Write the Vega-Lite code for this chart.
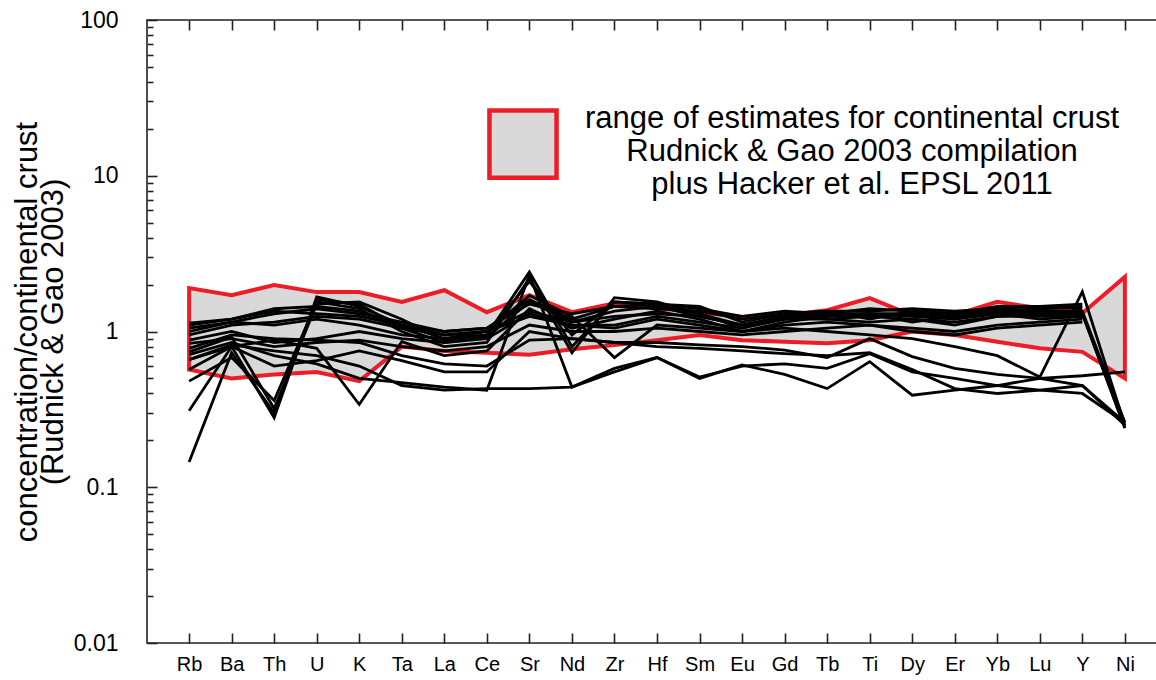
{
  "$schema": "https://vega.github.io/schema/vega-lite/v6.json",
  "width": 1020,
  "height": 623,
  "autosize": {"type": "none"},
  "padding": {"left": 147, "top": 20, "right": 0, "bottom": 37},
  "background": "white",
  "config": {
    "font": "Liberation Sans",
    "view": {"stroke": "#222", "strokeWidth": 1.6},
    "axis": {"domain": false, "grid": false, "tickColor": "#222", "tickWidth": 1.6, "labelColor": "#000", "labelFont": "Liberation Sans", "titleFont": "Liberation Sans", "titleColor": "#000"}
  },
  "datasets": {
    "band": [
      {"e": "Rb", "v": 0.57, "hi": 1.90},
      {"e": "Ba", "v": 0.50, "hi": 1.71},
      {"e": "Th", "v": 0.53, "hi": 1.99},
      {"e": "U", "v": 0.55, "hi": 1.79},
      {"e": "K", "v": 0.48, "hi": 1.79},
      {"e": "Ta", "v": 0.80, "hi": 1.55},
      {"e": "La", "v": 0.75, "hi": 1.84},
      {"e": "Ce", "v": 0.73, "hi": 1.33},
      {"e": "Sr", "v": 0.71, "hi": 1.71},
      {"e": "Nd", "v": 0.77, "hi": 1.33},
      {"e": "Zr", "v": 0.82, "hi": 1.52},
      {"e": "Hf", "v": 0.88, "hi": 1.41},
      {"e": "Sm", "v": 0.95, "hi": 1.33},
      {"e": "Eu", "v": 0.88, "hi": 1.24},
      {"e": "Gd", "v": 0.86, "hi": 1.27},
      {"e": "Tb", "v": 0.84, "hi": 1.37},
      {"e": "Ti", "v": 0.88, "hi": 1.64},
      {"e": "Dy", "v": 1.00, "hi": 1.27},
      {"e": "Er", "v": 0.95, "hi": 1.28},
      {"e": "Yb", "v": 0.86, "hi": 1.55},
      {"e": "Lu", "v": 0.78, "hi": 1.41},
      {"e": "Y", "v": 0.74, "hi": 1.31},
      {"e": "Ni", "v": 0.50, "hi": 2.24}
    ],
    "lines": [
      {"s": "A", "e": "Rb", "v": 0.145}, {"s": "A", "e": "Ba", "v": 0.73}, {"s": "A", "e": "Th", "v": 0.30}, {"s": "A", "e": "U", "v": 1.60}, {"s": "A", "e": "K", "v": 1.50}, {"s": "A", "e": "Ta", "v": 1.05}, {"s": "A", "e": "La", "v": 0.85}, {"s": "A", "e": "Ce", "v": 0.92}, {"s": "A", "e": "Sr", "v": 1.55}, {"s": "A", "e": "Nd", "v": 1.15}, {"s": "A", "e": "Zr", "v": 1.35}, {"s": "A", "e": "Hf", "v": 1.45}, {"s": "A", "e": "Sm", "v": 1.25}, {"s": "A", "e": "Eu", "v": 1.10}, {"s": "A", "e": "Gd", "v": 1.20}, {"s": "A", "e": "Tb", "v": 1.30}, {"s": "A", "e": "Ti", "v": 1.25}, {"s": "A", "e": "Dy", "v": 1.30}, {"s": "A", "e": "Er", "v": 1.20}, {"s": "A", "e": "Yb", "v": 1.35}, {"s": "A", "e": "Lu", "v": 1.40}, {"s": "A", "e": "Y", "v": 1.45},
      {"s": "B", "e": "Rb", "v": 0.31}, {"s": "B", "e": "Ba", "v": 0.80}, {"s": "B", "e": "Th", "v": 0.28}, {"s": "B", "e": "U", "v": 1.67}, {"s": "B", "e": "K", "v": 1.45}, {"s": "B", "e": "Ta", "v": 1.10}, {"s": "B", "e": "La", "v": 0.90}, {"s": "B", "e": "Ce", "v": 0.95}, {"s": "B", "e": "Sr", "v": 2.41}, {"s": "B", "e": "Nd", "v": 0.80}, {"s": "B", "e": "Zr", "v": 1.55}, {"s": "B", "e": "Hf", "v": 1.50}, {"s": "B", "e": "Sm", "v": 1.45}, {"s": "B", "e": "Eu", "v": 1.15}, {"s": "B", "e": "Gd", "v": 1.30}, {"s": "B", "e": "Tb", "v": 1.35}, {"s": "B", "e": "Ti", "v": 1.20}, {"s": "B", "e": "Dy", "v": 1.35}, {"s": "B", "e": "Er", "v": 1.30}, {"s": "B", "e": "Yb", "v": 1.45}, {"s": "B", "e": "Lu", "v": 1.45}, {"s": "B", "e": "Y", "v": 1.50},
      {"s": "C", "e": "Rb", "v": 0.48}, {"s": "C", "e": "Ba", "v": 0.68}, {"s": "C", "e": "Th", "v": 0.36}, {"s": "C", "e": "U", "v": 1.55}, {"s": "C", "e": "K", "v": 1.40}, {"s": "C", "e": "Ta", "v": 1.00}, {"s": "C", "e": "La", "v": 0.80}, {"s": "C", "e": "Ce", "v": 0.85}, {"s": "C", "e": "Sr", "v": 2.20}, {"s": "C", "e": "Nd", "v": 0.73}, {"s": "C", "e": "Zr", "v": 1.65}, {"s": "C", "e": "Hf", "v": 1.55}, {"s": "C", "e": "Sm", "v": 1.30}, {"s": "C", "e": "Eu", "v": 1.05}, {"s": "C", "e": "Gd", "v": 1.25}, {"s": "C", "e": "Tb", "v": 1.20}, {"s": "C", "e": "Ti", "v": 1.15}, {"s": "C", "e": "Dy", "v": 1.20}, {"s": "C", "e": "Er", "v": 1.10}, {"s": "C", "e": "Yb", "v": 1.25}, {"s": "C", "e": "Lu", "v": 1.30}, {"s": "C", "e": "Y", "v": 1.30}, {"s": "C", "e": "Ni", "v": 0.24},
      {"s": "D", "e": "Rb", "v": 0.57}, {"s": "D", "e": "Ba", "v": 0.80}, {"s": "D", "e": "Th", "v": 0.88}, {"s": "D", "e": "U", "v": 0.78}, {"s": "D", "e": "K", "v": 0.34}, {"s": "D", "e": "Ta", "v": 0.86}, {"s": "D", "e": "La", "v": 0.70}, {"s": "D", "e": "Ce", "v": 0.75}, {"s": "D", "e": "Sr", "v": 1.40}, {"s": "D", "e": "Nd", "v": 1.05}, {"s": "D", "e": "Zr", "v": 1.20}, {"s": "D", "e": "Hf", "v": 1.35}, {"s": "D", "e": "Sm", "v": 1.20}, {"s": "D", "e": "Eu", "v": 1.00}, {"s": "D", "e": "Gd", "v": 1.15}, {"s": "D", "e": "Tb", "v": 1.25}, {"s": "D", "e": "Ti", "v": 1.30}, {"s": "D", "e": "Dy", "v": 1.15}, {"s": "D", "e": "Er", "v": 1.25}, {"s": "D", "e": "Yb", "v": 1.30}, {"s": "D", "e": "Lu", "v": 1.20}, {"s": "D", "e": "Y", "v": 1.25},
      {"s": "E", "e": "Rb", "v": 0.66}, {"s": "E", "e": "Ba", "v": 0.82}, {"s": "E", "e": "Th", "v": 0.75}, {"s": "E", "e": "U", "v": 0.70}, {"s": "E", "e": "K", "v": 0.60}, {"s": "E", "e": "Ta", "v": 0.45}, {"s": "E", "e": "La", "v": 0.42}, {"s": "E", "e": "Ce", "v": 0.43}, {"s": "E", "e": "Sr", "v": 0.43}, {"s": "E", "e": "Nd", "v": 0.44}, {"s": "E", "e": "Zr", "v": 0.55}, {"s": "E", "e": "Hf", "v": 0.68}, {"s": "E", "e": "Sm", "v": 0.50}, {"s": "E", "e": "Eu", "v": 0.61}, {"s": "E", "e": "Gd", "v": 0.53}, {"s": "E", "e": "Tb", "v": 0.43}, {"s": "E", "e": "Ti", "v": 0.64}, {"s": "E", "e": "Dy", "v": 0.39}, {"s": "E", "e": "Er", "v": 0.42}, {"s": "E", "e": "Yb", "v": 0.45}, {"s": "E", "e": "Lu", "v": 0.50}, {"s": "E", "e": "Y", "v": 0.52}, {"s": "E", "e": "Ni", "v": 0.55},
      {"s": "F", "e": "Rb", "v": 0.71}, {"s": "F", "e": "Ba", "v": 0.85}, {"s": "F", "e": "Th", "v": 0.70}, {"s": "F", "e": "U", "v": 0.62}, {"s": "F", "e": "K", "v": 0.50}, {"s": "F", "e": "Ta", "v": 0.47}, {"s": "F", "e": "La", "v": 0.44}, {"s": "F", "e": "Ce", "v": 0.42}, {"s": "F", "e": "Sr", "v": 2.30}, {"s": "F", "e": "Nd", "v": 0.44}, {"s": "F", "e": "Zr", "v": 0.58}, {"s": "F", "e": "Hf", "v": 0.68}, {"s": "F", "e": "Sm", "v": 0.51}, {"s": "F", "e": "Eu", "v": 0.60}, {"s": "F", "e": "Gd", "v": 0.62}, {"s": "F", "e": "Tb", "v": 0.58}, {"s": "F", "e": "Ti", "v": 0.72}, {"s": "F", "e": "Dy", "v": 0.55}, {"s": "F", "e": "Er", "v": 0.50}, {"s": "F", "e": "Yb", "v": 0.45}, {"s": "F", "e": "Lu", "v": 0.42}, {"s": "F", "e": "Y", "v": 0.40}, {"s": "F", "e": "Ni", "v": 0.26},
      {"s": "G", "e": "Rb", "v": 0.78}, {"s": "G", "e": "Ba", "v": 0.95}, {"s": "G", "e": "Th", "v": 0.90}, {"s": "G", "e": "U", "v": 0.88}, {"s": "G", "e": "K", "v": 0.85}, {"s": "G", "e": "Ta", "v": 0.70}, {"s": "G", "e": "La", "v": 0.62}, {"s": "G", "e": "Ce", "v": 0.60}, {"s": "G", "e": "Sr", "v": 0.88}, {"s": "G", "e": "Nd", "v": 0.90}, {"s": "G", "e": "Zr", "v": 0.85}, {"s": "G", "e": "Hf", "v": 0.85}, {"s": "G", "e": "Sm", "v": 0.82}, {"s": "G", "e": "Eu", "v": 0.80}, {"s": "G", "e": "Gd", "v": 0.76}, {"s": "G", "e": "Tb", "v": 0.68}, {"s": "G", "e": "Ti", "v": 0.90}, {"s": "G", "e": "Dy", "v": 0.69}, {"s": "G", "e": "Er", "v": 0.58}, {"s": "G", "e": "Yb", "v": 0.53}, {"s": "G", "e": "Lu", "v": 0.50}, {"s": "G", "e": "Y", "v": 0.45}, {"s": "G", "e": "Ni", "v": 0.25},
      {"s": "H", "e": "Rb", "v": 1.00}, {"s": "H", "e": "Ba", "v": 1.15}, {"s": "H", "e": "Th", "v": 1.10}, {"s": "H", "e": "U", "v": 1.20}, {"s": "H", "e": "K", "v": 1.10}, {"s": "H", "e": "Ta", "v": 0.95}, {"s": "H", "e": "La", "v": 0.90}, {"s": "H", "e": "Ce", "v": 1.00}, {"s": "H", "e": "Sr", "v": 1.25}, {"s": "H", "e": "Nd", "v": 1.10}, {"s": "H", "e": "Zr", "v": 1.05}, {"s": "H", "e": "Hf", "v": 1.20}, {"s": "H", "e": "Sm", "v": 1.10}, {"s": "H", "e": "Eu", "v": 1.00}, {"s": "H", "e": "Gd", "v": 1.05}, {"s": "H", "e": "Tb", "v": 1.00}, {"s": "H", "e": "Ti", "v": 0.95}, {"s": "H", "e": "Dy", "v": 0.90}, {"s": "H", "e": "Er", "v": 0.80}, {"s": "H", "e": "Yb", "v": 0.70}, {"s": "H", "e": "Lu", "v": 0.51}, {"s": "H", "e": "Y", "v": 1.80}, {"s": "H", "e": "Ni", "v": 0.25},
      {"s": "I", "e": "Rb", "v": 1.10}, {"s": "I", "e": "Ba", "v": 1.20}, {"s": "I", "e": "Th", "v": 1.40}, {"s": "I", "e": "U", "v": 1.45}, {"s": "I", "e": "K", "v": 1.35}, {"s": "I", "e": "Ta", "v": 1.10}, {"s": "I", "e": "La", "v": 0.95}, {"s": "I", "e": "Ce", "v": 1.00}, {"s": "I", "e": "Sr", "v": 1.70}, {"s": "I", "e": "Nd", "v": 1.25}, {"s": "I", "e": "Zr", "v": 0.68}, {"s": "I", "e": "Hf", "v": 1.10}, {"s": "I", "e": "Sm", "v": 1.05}, {"s": "I", "e": "Eu", "v": 1.00}, {"s": "I", "e": "Gd", "v": 1.10}, {"s": "I", "e": "Tb", "v": 1.15}, {"s": "I", "e": "Ti", "v": 1.10}, {"s": "I", "e": "Dy", "v": 1.05}, {"s": "I", "e": "Er", "v": 1.00}, {"s": "I", "e": "Yb", "v": 1.10}, {"s": "I", "e": "Lu", "v": 1.15}, {"s": "I", "e": "Y", "v": 1.20},
      {"s": "J", "e": "Rb", "v": 1.13}, {"s": "J", "e": "Ba", "v": 1.20}, {"s": "J", "e": "Th", "v": 1.35}, {"s": "J", "e": "U", "v": 1.30}, {"s": "J", "e": "K", "v": 1.25}, {"s": "J", "e": "Ta", "v": 1.10}, {"s": "J", "e": "La", "v": 1.00}, {"s": "J", "e": "Ce", "v": 1.05}, {"s": "J", "e": "Sr", "v": 1.50}, {"s": "J", "e": "Nd", "v": 1.30}, {"s": "J", "e": "Zr", "v": 1.45}, {"s": "J", "e": "Hf", "v": 1.40}, {"s": "J", "e": "Sm", "v": 1.35}, {"s": "J", "e": "Eu", "v": 1.20}, {"s": "J", "e": "Gd", "v": 1.30}, {"s": "J", "e": "Tb", "v": 1.35}, {"s": "J", "e": "Ti", "v": 1.35}, {"s": "J", "e": "Dy", "v": 1.40}, {"s": "J", "e": "Er", "v": 1.35}, {"s": "J", "e": "Yb", "v": 1.40}, {"s": "J", "e": "Lu", "v": 1.45}, {"s": "J", "e": "Y", "v": 1.40},
      {"s": "K", "e": "Rb", "v": 0.95}, {"s": "K", "e": "Ba", "v": 1.10}, {"s": "K", "e": "Th", "v": 1.15}, {"s": "K", "e": "U", "v": 1.25}, {"s": "K", "e": "K", "v": 1.20}, {"s": "K", "e": "Ta", "v": 1.05}, {"s": "K", "e": "La", "v": 0.95}, {"s": "K", "e": "Ce", "v": 1.00}, {"s": "K", "e": "Sr", "v": 1.35}, {"s": "K", "e": "Nd", "v": 1.15}, {"s": "K", "e": "Zr", "v": 1.25}, {"s": "K", "e": "Hf", "v": 1.30}, {"s": "K", "e": "Sm", "v": 1.25}, {"s": "K", "e": "Eu", "v": 1.10}, {"s": "K", "e": "Gd", "v": 1.25}, {"s": "K", "e": "Tb", "v": 1.25}, {"s": "K", "e": "Ti", "v": 1.30}, {"s": "K", "e": "Dy", "v": 1.30}, {"s": "K", "e": "Er", "v": 1.25}, {"s": "K", "e": "Yb", "v": 1.30}, {"s": "K", "e": "Lu", "v": 1.30}, {"s": "K", "e": "Y", "v": 1.30}, {"s": "K", "e": "Ni", "v": 0.24},
      {"s": "L", "e": "Rb", "v": 0.88}, {"s": "L", "e": "Ba", "v": 1.00}, {"s": "L", "e": "Th", "v": 0.85}, {"s": "L", "e": "U", "v": 0.90}, {"s": "L", "e": "K", "v": 1.00}, {"s": "L", "e": "Ta", "v": 0.90}, {"s": "L", "e": "La", "v": 0.85}, {"s": "L", "e": "Ce", "v": 0.90}, {"s": "L", "e": "Sr", "v": 1.30}, {"s": "L", "e": "Nd", "v": 1.10}, {"s": "L", "e": "Zr", "v": 1.10}, {"s": "L", "e": "Hf", "v": 1.25}, {"s": "L", "e": "Sm", "v": 1.15}, {"s": "L", "e": "Eu", "v": 1.05}, {"s": "L", "e": "Gd", "v": 1.20}, {"s": "L", "e": "Tb", "v": 1.20}, {"s": "L", "e": "Ti", "v": 1.25}, {"s": "L", "e": "Dy", "v": 1.20}, {"s": "L", "e": "Er", "v": 1.15}, {"s": "L", "e": "Yb", "v": 1.25}, {"s": "L", "e": "Lu", "v": 1.25}, {"s": "L", "e": "Y", "v": 1.25},
      {"s": "M", "e": "Rb", "v": 1.05}, {"s": "M", "e": "Ba", "v": 1.15}, {"s": "M", "e": "Th", "v": 1.30}, {"s": "M", "e": "U", "v": 1.40}, {"s": "M", "e": "K", "v": 1.30}, {"s": "M", "e": "Ta", "v": 1.15}, {"s": "M", "e": "La", "v": 1.00}, {"s": "M", "e": "Ce", "v": 1.05}, {"s": "M", "e": "Sr", "v": 1.60}, {"s": "M", "e": "Nd", "v": 1.20}, {"s": "M", "e": "Zr", "v": 1.45}, {"s": "M", "e": "Hf", "v": 1.50}, {"s": "M", "e": "Sm", "v": 1.40}, {"s": "M", "e": "Eu", "v": 1.25}, {"s": "M", "e": "Gd", "v": 1.35}, {"s": "M", "e": "Tb", "v": 1.30}, {"s": "M", "e": "Ti", "v": 1.40}, {"s": "M", "e": "Dy", "v": 1.35}, {"s": "M", "e": "Er", "v": 1.30}, {"s": "M", "e": "Yb", "v": 1.35}, {"s": "M", "e": "Lu", "v": 1.35}, {"s": "M", "e": "Y", "v": 1.35},
      {"s": "N", "e": "Rb", "v": 0.84}, {"s": "N", "e": "Ba", "v": 0.90}, {"s": "N", "e": "Th", "v": 0.80}, {"s": "N", "e": "U", "v": 0.85}, {"s": "N", "e": "K", "v": 0.88}, {"s": "N", "e": "Ta", "v": 0.80}, {"s": "N", "e": "La", "v": 0.75}, {"s": "N", "e": "Ce", "v": 0.80}, {"s": "N", "e": "Sr", "v": 1.10}, {"s": "N", "e": "Nd", "v": 1.00}, {"s": "N", "e": "Zr", "v": 1.00}, {"s": "N", "e": "Hf", "v": 1.05}, {"s": "N", "e": "Sm", "v": 1.00}, {"s": "N", "e": "Eu", "v": 0.95}, {"s": "N", "e": "Gd", "v": 1.00}, {"s": "N", "e": "Tb", "v": 1.05}, {"s": "N", "e": "Ti", "v": 1.10}, {"s": "N", "e": "Dy", "v": 1.00}, {"s": "N", "e": "Er", "v": 0.95}, {"s": "N", "e": "Yb", "v": 1.05}, {"s": "N", "e": "Lu", "v": 1.10}, {"s": "N", "e": "Y", "v": 1.15},
      {"s": "O", "e": "Rb", "v": 0.74}, {"s": "O", "e": "Ba", "v": 0.92}, {"s": "O", "e": "Th", "v": 0.32}, {"s": "O", "e": "U", "v": 1.50}, {"s": "O", "e": "K", "v": 1.55}, {"s": "O", "e": "Ta", "v": 1.20}, {"s": "O", "e": "La", "v": 0.88}, {"s": "O", "e": "Ce", "v": 0.95}, {"s": "O", "e": "Sr", "v": 2.10}, {"s": "O", "e": "Nd", "v": 0.95}, {"s": "O", "e": "Zr", "v": 1.55}, {"s": "O", "e": "Hf", "v": 1.50}, {"s": "O", "e": "Sm", "v": 1.30}, {"s": "O", "e": "Eu", "v": 1.10}, {"s": "O", "e": "Gd", "v": 1.25}, {"s": "O", "e": "Tb", "v": 1.30}, {"s": "O", "e": "Ti", "v": 1.30}, {"s": "O", "e": "Dy", "v": 1.25}, {"s": "O", "e": "Er", "v": 1.20}, {"s": "O", "e": "Yb", "v": 1.30}, {"s": "O", "e": "Lu", "v": 1.35}, {"s": "O", "e": "Y", "v": 1.35}, {"s": "O", "e": "Ni", "v": 0.26},
      {"s": "P", "e": "Rb", "v": 0.66}, {"s": "P", "e": "Ba", "v": 0.80}, {"s": "P", "e": "Th", "v": 0.60}, {"s": "P", "e": "U", "v": 0.65}, {"s": "P", "e": "K", "v": 0.75}, {"s": "P", "e": "Ta", "v": 0.65}, {"s": "P", "e": "La", "v": 0.55}, {"s": "P", "e": "Ce", "v": 0.55}, {"s": "P", "e": "Sr", "v": 1.00}, {"s": "P", "e": "Nd", "v": 0.90}, {"s": "P", "e": "Zr", "v": 0.85}, {"s": "P", "e": "Hf", "v": 0.80}, {"s": "P", "e": "Sm", "v": 0.78}, {"s": "P", "e": "Eu", "v": 0.75}, {"s": "P", "e": "Gd", "v": 0.72}, {"s": "P", "e": "Tb", "v": 0.70}, {"s": "P", "e": "Ti", "v": 0.73}, {"s": "P", "e": "Dy", "v": 0.57}, {"s": "P", "e": "Er", "v": 0.43}, {"s": "P", "e": "Yb", "v": 0.40}, {"s": "P", "e": "Lu", "v": 0.42}, {"s": "P", "e": "Y", "v": 0.45}, {"s": "P", "e": "Ni", "v": 0.26}
    ]
  },
  "encoding": {
    "y": {
      "field": "v",
      "type": "quantitative",
      "scale": {"type": "log", "domain": [0.01, 100], "nice": false},
      "axis": {
        "orient": "left",
        "values": [0.01, 0.02, 0.03, 0.04, 0.05, 0.06, 0.07, 0.08, 0.09, 0.1, 0.2, 0.3, 0.4, 0.5, 0.6, 0.7, 0.8, 0.9, 1, 2, 3, 4, 5, 6, 7, 8, 9, 10, 20, 30, 40, 50, 60, 70, 80, 90, 100],
        "labelExpr": "datum.value == 100 ? '100' : datum.value == 10 ? '10' : datum.value == 1 ? '1' : datum.value == 0.1 ? '0.1' : datum.value == 0.01 ? '0.01' : ''",
        "labelOverlap": false,
        "labelFontSize": 23,
        "labelPadding": 39,
        "tickSize": {"condition": {"test": "datum.value == 100 || datum.value == 10 || datum.value == 1 || datum.value == 0.1 || datum.value == 0.01", "value": -10}, "value": -6},
        "title": ["concentration/continental crust", "(Rudnick & Gao 2003)"],
        "titleFontSize": 31,
        "titleFontWeight": "normal",
        "titleLineHeight": 26,
        "titlePadding": 4
      }
    }
  },
  "layer": [
    {
      "data": {"name": "band"},
      "mark": {"type": "area", "fill": "#d9d9d9", "stroke": "#ee1c25", "strokeWidth": 4, "strokeJoin": "miter"},
      "encoding": {
        "x": {
          "field": "e", "type": "ordinal",
          "sort": ["Rb", "Ba", "Th", "U", "K", "Ta", "La", "Ce", "Sr", "Nd", "Zr", "Hf", "Sm", "Eu", "Gd", "Tb", "Ti", "Dy", "Er", "Yb", "Lu", "Y", "Ni"],
          "scale": {"type": "point", "padding": 0.99, "domain": ["Rb", "Ba", "Th", "U", "K", "Ta", "La", "Ce", "Sr", "Nd", "Zr", "Hf", "Sm", "Eu", "Gd", "Tb", "Ti", "Dy", "Er", "Yb", "Lu", "Y", "Ni"]},
          "axis": {"orient": "bottom", "title": null, "labelAngle": 0, "labelFontSize": 20, "labelPadding": 21, "tickSize": -10}
        },
        "y2": {"field": "hi"},
        "fill": {
          "datum": "range of estimates for continental crust|Rudnick & Gao 2003 compilation|plus Hacker et al. EPSL 2011",
          "type": "nominal",
          "scale": {"range": ["#d9d9d9"]},
          "legend": {
            "orient": "none", "legendX": 340, "legendY": 63, "title": null, "padding": 0,
            "symbolType": "M-1,-0.25H1V1.75H-1Z", "symbolSize": 4500, "symbolStrokeColor": "#ee1c25", "symbolStrokeWidth": 4.5, "symbolOpacity": 1,
            "labelExpr": "split(datum.label, '|')", "labelFontSize": 31, "labelLineHeight": 33, "labelLimit": 2000, "labelAlign": "center", "labelOffset": 293, "labelColor": "#000", "labelFont": "Liberation Sans"
          }
        }
      }
    },
    {
      "data": {"name": "lines"},
      "mark": {"type": "line", "color": "#000", "strokeWidth": 2.8, "strokeJoin": "miter"},
      "encoding": {
        "x": {
          "field": "e", "type": "ordinal",
          "sort": ["Rb", "Ba", "Th", "U", "K", "Ta", "La", "Ce", "Sr", "Nd", "Zr", "Hf", "Sm", "Eu", "Gd", "Tb", "Ti", "Dy", "Er", "Yb", "Lu", "Y", "Ni"],
          "scale": {"type": "point", "padding": 0.99},
          "axis": {"orient": "top", "title": null, "labels": false, "tickSize": -10}
        },
        "detail": {"field": "s", "type": "nominal"}
      }
    }
  ],
  "resolve": {"axis": {"x": "independent"}}
}
